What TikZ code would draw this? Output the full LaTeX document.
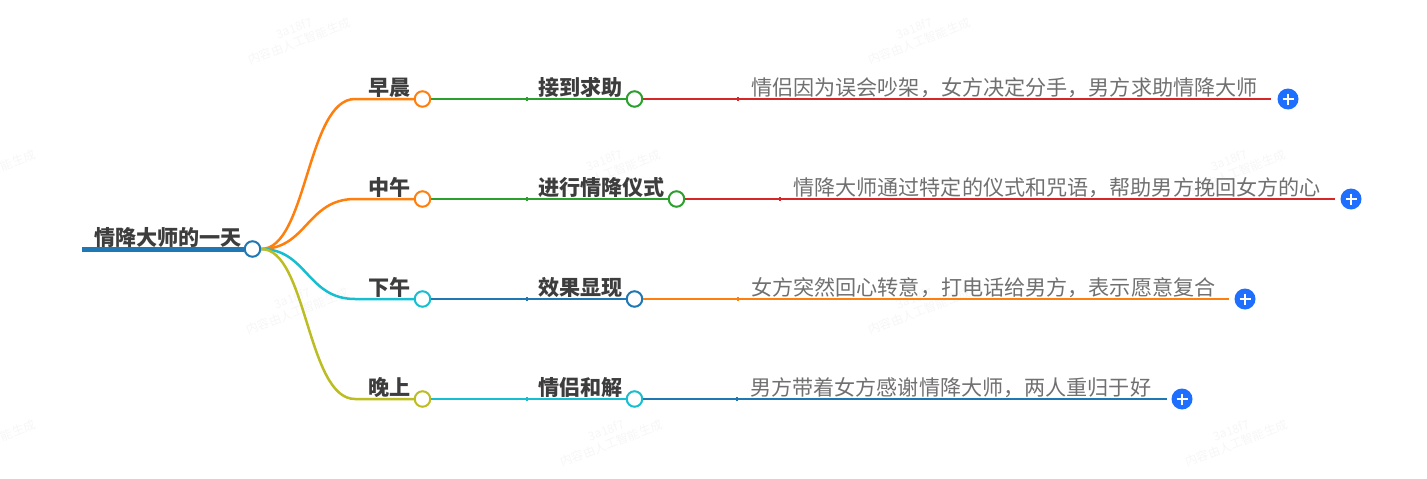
\documentclass[tikz,border=0pt]{standalone}
\usepackage{fontspec}
\setmainfont{Noto Sans CJK SC}
\definecolor{cOrange}{HTML}{FF7F0E}
\definecolor{cGreen}{HTML}{2CA02C}
\definecolor{cRed}{HTML}{D62728}
\definecolor{cBlue}{HTML}{1F77B4}
\definecolor{cCyan}{HTML}{17BECF}
\definecolor{cOlive}{HTML}{BCBD22}
\definecolor{cPlus}{HTML}{1F6FFF}
\begin{document}
\begin{tikzpicture}
[x=1pt,y=-1pt,%
  dotDecorate/.style={shape=circle,minimum size=15.5pt,inner sep=0pt,draw,line width=2pt,fill=white},%
  branchDecorate/.style={line width=2.5pt},%
  lineDecorate/.style={line width=2pt},%
  tickDecorate/.style={shape=rectangle,minimum width=2pt,minimum height=3.5pt,inner sep=0pt},%
  plusDecorate/.style={shape=circle,minimum size=21pt,inner sep=0pt,fill=cPlus,
    path picture={\draw[white,line width=2pt] (path picture bounding box.center) +(-5.5,0) -- +(5.5,0) +(0,-5.5) -- +(0,5.5);}},%
  keyText/.style={anchor=base west,inner sep=0pt,font=\fontsize{21.1}{21}\selectfont\bfseries,text=black!76},%
  leafText/.style={anchor=base west,inner sep=0pt,font=\fontsize{21.1}{21}\selectfont,text=black!56},%
  markText/.style={rotate=21,align=center,inner sep=0pt,font=\fontsize{12}{14}\selectfont,text=black!3.5}]
\useasboundingbox (0,0) rectangle (1427,479);
%% faint marks
\foreach \markname/\x/\y in {
  w1/297/35, w2/917/35, w3/-18/167, w4/607/167, w5/1232/167,
  w6/295/305, w7/917/305, w8/-18/437, w9/609/437, w10/1234/437}
{
  \node[markText] (\markname) at (\x,\y) {3a18f7\\内容由人工智能生成};
}
%% root
\coordinate (rootStart) at (82,249);
\node[dotDecorate,draw=cBlue] (root) at (252.5,249) {};
\node[keyText] (rootLabel) at (94,245) {情降大师的一天};
\draw[cBlue,line width=5pt] (rootStart) -- (root.west);
%% rows
\foreach \row/\y/\colA/\colB/\colC/\colD/\xB/\xJ/\xEnd/\xP/\keyA/\keyB/\leaf in {
  1/99/cOrange/cGreen/cRed/cGreen/634.5/738/1271/1288/早晨/接到求助/情侣因为误会吵架，女方决定分手，男方求助情降大师,
  2/199/cOrange/cGreen/cRed/cGreen/676.5/780/1335/1351/中午/进行情降仪式/情降大师通过特定的仪式和咒语，帮助男方挽回女方的心,
  3/299/cCyan/cBlue/cOrange/cBlue/634.5/738/1229/1245/下午/效果显现/女方突然回心转意，打电话给男方，表示愿意复合,
  4/399/cOlive/cCyan/cBlue/cCyan/634.5/737/1167/1182/晚上/情侣和解/男方带着女方感谢情降大师，两人重归于好}
{
  \node[dotDecorate,draw=\colA] (a\row) at (422.5,\y) {};
  \node[dotDecorate,draw=\colD] (b\row) at (\xB,\y) {};
  \node[tickDecorate,fill=\colB] (s\row) at (527,\y) {};
  \node[tickDecorate,fill=\colC] (t\row) at (\xJ,\y) {};
  \coordinate (e\row) at (\xEnd,\y);
  \node[plusDecorate] (p\row) at (\xP,\y) {};
  \node[keyText] (ka\row) at (368,\y-4) {\keyA};
  \node[keyText] (kb\row) at (538,\y-4) {\keyB};
  \node[leafText] (l\row) at (\xJ+13,\y-4) {\leaf};
  \draw[branchDecorate,\colA] (root.east) .. controls (307,249) and (307,\y) .. (355,\y) -- (a\row.west);
  \draw[lineDecorate,\colB] (a\row.east) -- (s\row.center) -- (b\row.west);
  \draw[lineDecorate,\colC] (b\row.east) -- (t\row.center) -- (e\row);
}
\end{tikzpicture}
\end{document}
